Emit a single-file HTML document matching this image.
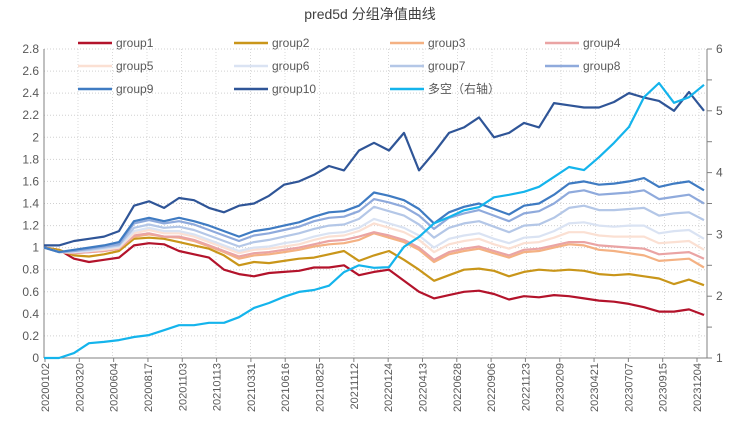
<!DOCTYPE html>
<html><head><meta charset="utf-8">
<style>
body{margin:0;background:#fff;}
svg{display:block;font-family:"Liberation Sans","Noto Sans CJK SC",sans-serif;}
</style></head>
<body>
<svg id="chart" width="735" height="441" viewBox="0 0 735 441" xmlns="http://www.w3.org/2000/svg">
<text x="370" y="19" text-anchor="middle" font-size="14" fill="#404040">pred5d 分组净值曲线</text>
<g id="grid"></g>
<g id="axes"></g>
<g id="series"></g>
<g id="legend"></g>
</svg>
<script>
const dates=["20200102","20200320","20200604","20200817","20201103","20210113","20210331","20210616","20210825","20211112","20220124","20220413","20220628","20220906","20221123","20230209","20230421","20230707","20230915","20231204"];
const xLabels=["20200102","20200320","20200604","20200817","20201103","20210113","20210331","20210616","20210825","20211112","20220124","20220413","20220628","20220906","20221123","20230209","20230421","20230707","20230915","20231204"];
const leftTicks=[0,0.2,0.4,0.6,0.8,1,1.2,1.4,1.6,1.8,2,2.2,2.4,2.6,2.8];
const rightTicks=[1,2,3,4,5,6];
const seriesNames=["group1","group2","group3","group4","group5","group6","group7","group8","group9","group10","多空（右轴）"];
const g1=[1.00,0.98,0.90,0.87,0.89,0.91,1.02,1.04,1.03,0.97,0.94,0.91,0.80,0.76,0.74,0.77,0.78,0.79,0.82,0.82,0.84,0.75,0.78,0.80,0.70,0.60,0.54,0.57,0.60,0.61,0.58,0.53,0.56,0.55,0.57,0.56,0.54,0.52,0.51,0.49,0.46,0.42,0.42,0.44,0.39];
const g2=[1.00,0.98,0.93,0.92,0.94,0.97,1.08,1.09,1.08,1.05,1.02,0.99,0.93,0.84,0.87,0.86,0.88,0.90,0.91,0.94,0.97,0.88,0.93,0.97,0.89,0.80,0.70,0.75,0.80,0.81,0.79,0.74,0.78,0.80,0.79,0.80,0.79,0.76,0.75,0.76,0.74,0.72,0.67,0.71,0.66];
const g3=[1.00,0.96,0.95,0.96,0.97,0.99,1.10,1.12,1.10,1.09,1.06,1.01,0.96,0.90,0.93,0.94,0.96,0.98,1.01,1.03,1.04,1.07,1.13,1.09,1.05,0.98,0.87,0.94,0.97,0.99,0.95,0.91,0.96,0.97,1.00,1.03,1.02,0.98,0.97,0.95,0.93,0.88,0.89,0.90,0.82];
const g4=[1.00,0.96,0.95,0.96,0.97,0.99,1.11,1.13,1.10,1.10,1.07,1.02,0.97,0.92,0.95,0.96,0.98,1.00,1.03,1.06,1.07,1.10,1.14,1.11,1.07,1.00,0.89,0.96,0.99,1.01,0.97,0.93,0.98,0.99,1.02,1.05,1.05,1.02,1.01,1.00,0.99,0.94,0.95,0.96,0.90];
const g5=[1.00,0.96,0.96,0.97,0.98,1.00,1.13,1.16,1.13,1.13,1.10,1.05,1.00,0.95,0.98,0.99,1.01,1.03,1.07,1.10,1.11,1.15,1.22,1.18,1.14,1.07,0.96,1.03,1.06,1.08,1.03,0.99,1.04,1.05,1.09,1.14,1.14,1.11,1.10,1.10,1.10,1.04,1.05,1.06,0.98];
const g6=[1.00,0.96,0.96,0.97,0.99,1.01,1.15,1.18,1.15,1.15,1.12,1.07,1.02,0.97,1.00,1.01,1.04,1.06,1.10,1.13,1.14,1.18,1.26,1.22,1.18,1.11,1.00,1.08,1.11,1.13,1.08,1.04,1.09,1.10,1.15,1.22,1.23,1.20,1.19,1.20,1.20,1.13,1.15,1.16,1.08];
const g7=[1.00,0.96,0.97,0.98,1.00,1.02,1.18,1.21,1.18,1.19,1.16,1.11,1.06,1.01,1.05,1.07,1.10,1.13,1.17,1.20,1.21,1.26,1.37,1.33,1.29,1.21,1.09,1.18,1.22,1.24,1.19,1.14,1.20,1.21,1.27,1.36,1.38,1.34,1.34,1.35,1.36,1.29,1.31,1.32,1.25];
const g8=[1.00,0.96,0.97,0.99,1.01,1.03,1.22,1.25,1.22,1.24,1.21,1.16,1.11,1.06,1.11,1.13,1.16,1.19,1.24,1.27,1.28,1.33,1.44,1.41,1.37,1.29,1.17,1.27,1.31,1.34,1.29,1.24,1.31,1.33,1.40,1.50,1.52,1.48,1.49,1.50,1.52,1.44,1.46,1.48,1.40];
const g9=[1.00,0.96,0.98,1.00,1.02,1.05,1.24,1.27,1.24,1.27,1.24,1.20,1.15,1.10,1.15,1.17,1.20,1.23,1.28,1.32,1.33,1.38,1.50,1.47,1.43,1.35,1.22,1.32,1.37,1.40,1.35,1.30,1.38,1.40,1.48,1.58,1.60,1.57,1.58,1.60,1.63,1.55,1.58,1.60,1.52];
const g10=[1.02,1.02,1.06,1.08,1.10,1.15,1.38,1.42,1.36,1.45,1.43,1.36,1.32,1.38,1.40,1.47,1.57,1.60,1.66,1.74,1.70,1.88,1.95,1.88,2.04,1.70,1.86,2.04,2.09,2.18,2.00,2.04,2.13,2.09,2.31,2.29,2.27,2.27,2.32,2.40,2.36,2.33,2.24,2.41,2.24];
const ls=[1.00,1.00,1.08,1.24,1.26,1.29,1.34,1.37,1.45,1.53,1.53,1.57,1.57,1.66,1.81,1.89,1.99,2.07,2.10,2.17,2.39,2.50,2.46,2.47,2.80,2.96,3.18,3.28,3.39,3.44,3.60,3.64,3.69,3.77,3.93,4.09,4.04,4.25,4.48,4.74,5.22,5.45,5.13,5.22,5.42];

const NS="http://www.w3.org/2000/svg";
const X0=44,X1=707,Y0=358,Y1=49;
const yL=v=>Y0-(v/2.8)*(Y0-Y1);
const yR=v=>Y0-((v-1)/5)*(Y0-Y1);
const xI=(i,n)=>X0+i*(X1-X0-3)/(n-1);
function mk(tag,attrs,parent){const e=document.createElementNS(NS,tag);for(const k in attrs)e.setAttribute(k,attrs[k]);parent.appendChild(e);return e;}
const grid=document.getElementById('grid'),axes=document.getElementById('axes'),ser=document.getElementById('series'),leg=document.getElementById('legend');

leftTicks.forEach(t=>{
  const y=yL(t);
  if(t>0){const l=mk('line',{x1:X0,x2:X1,y1:y,y2:y,stroke:'#d0d0d0','stroke-dasharray':'1,2'},grid);
  
  }
  const tx=mk('text',{x:X0-5,y:y+4,'text-anchor':'end','font-size':12,fill:'#595959'},axes);
  tx.textContent=String(t);
  
  
});
for(let x=78;x<X1;x+=34.5){const l=mk('line',{x1:x,x2:x,y1:Y1,y2:Y0,stroke:'#d8d8d8','stroke-dasharray':'1,2'},grid);
  
  }
mk('line',{x1:X0,x2:X0,y1:Y1,y2:Y0,stroke:'#808080'},axes);
mk('line',{x1:X1,x2:X1,y1:Y1,y2:Y0,stroke:'#808080'},axes);
mk('line',{x1:X0,x2:X1,y1:Y0,y2:Y0,stroke:'#808080'},axes);
for(let v=1;v<=6;v+=0.5){const y=yR(v);mk('line',{x1:X1,x2:X1+5,y1:y,y2:y,stroke:'#808080'},axes);}
rightTicks.forEach(t=>{
  const tx=mk('text',{x:X1+9,y:yR(t)+4,'font-size':12,fill:'#595959'},axes);
  tx.textContent=String(t);
  
  
});
const labs=["20200102","20200320","20200604","20200817","20201103","20210113","20210331","20210616","20210825","20211112","20220124","20220413","20220628","20220906","20221123","20230209","20230421","20230707","20230915","20231204"];
const allLabs=["20200102","20200320","20200604","20200817","20201103","20210113","20210331","20210616","20210825","20211112","20220124","20220413","20220628","20220906","20221123","20230209","20230421","20230707","20230915","20231204"];
const step=(697-45)/(allLabs.length-1);
allLabs.forEach((d,k)=>{
  const x=45+k*step;
  mk('line',{x1:x,x2:x,y1:Y0,y2:Y0+4,stroke:'#808080'},axes);
  const tx=mk('text',{x:0,y:0,'font-size':11,fill:'#595959','text-anchor':'end',transform:`translate(${x+4},${Y0+5}) rotate(-90)`},axes);
  tx.textContent=d;
  
  
});

const colors=['#b3132b','#c9961a','#f4b183','#eaa4a4','#fbe0d3','#dae3f3','#b4c7e7','#8faadc','#3f7bc2','#2f5597','#14b4ec'];
const data=[g1,g2,g3,g4,g5,g6,g7,g8,g9,g10,ls];
data.forEach((arr,s)=>{
  const f=s===10?yR:yL;
  const pts=arr.map((v,i)=>xI(i,arr.length).toFixed(1)+','+f(v).toFixed(1)).join(' ');
  const p=mk('polyline',{points:pts,fill:'none',stroke:colors[s],'stroke-width':2.2,'stroke-linejoin':'round'},ser);
  
  
});
const colX=[78,234,390,545],rowY=[43,66,89];
seriesNames.forEach((n,s)=>{
  const c=s%4,r=Math.floor(s/4);
  const g=mk('g',{},leg);
  
  
  mk('line',{x1:colX[c],x2:colX[c]+34,y1:rowY[r],y2:rowY[r],stroke:colors[s],'stroke-width':2.5},g);
  const tx=mk('text',{x:colX[c]+38,y:rowY[r]+4,'font-size':12,fill:'#595959'},g);
  tx.textContent=n;
});
</script>
</body></html>
